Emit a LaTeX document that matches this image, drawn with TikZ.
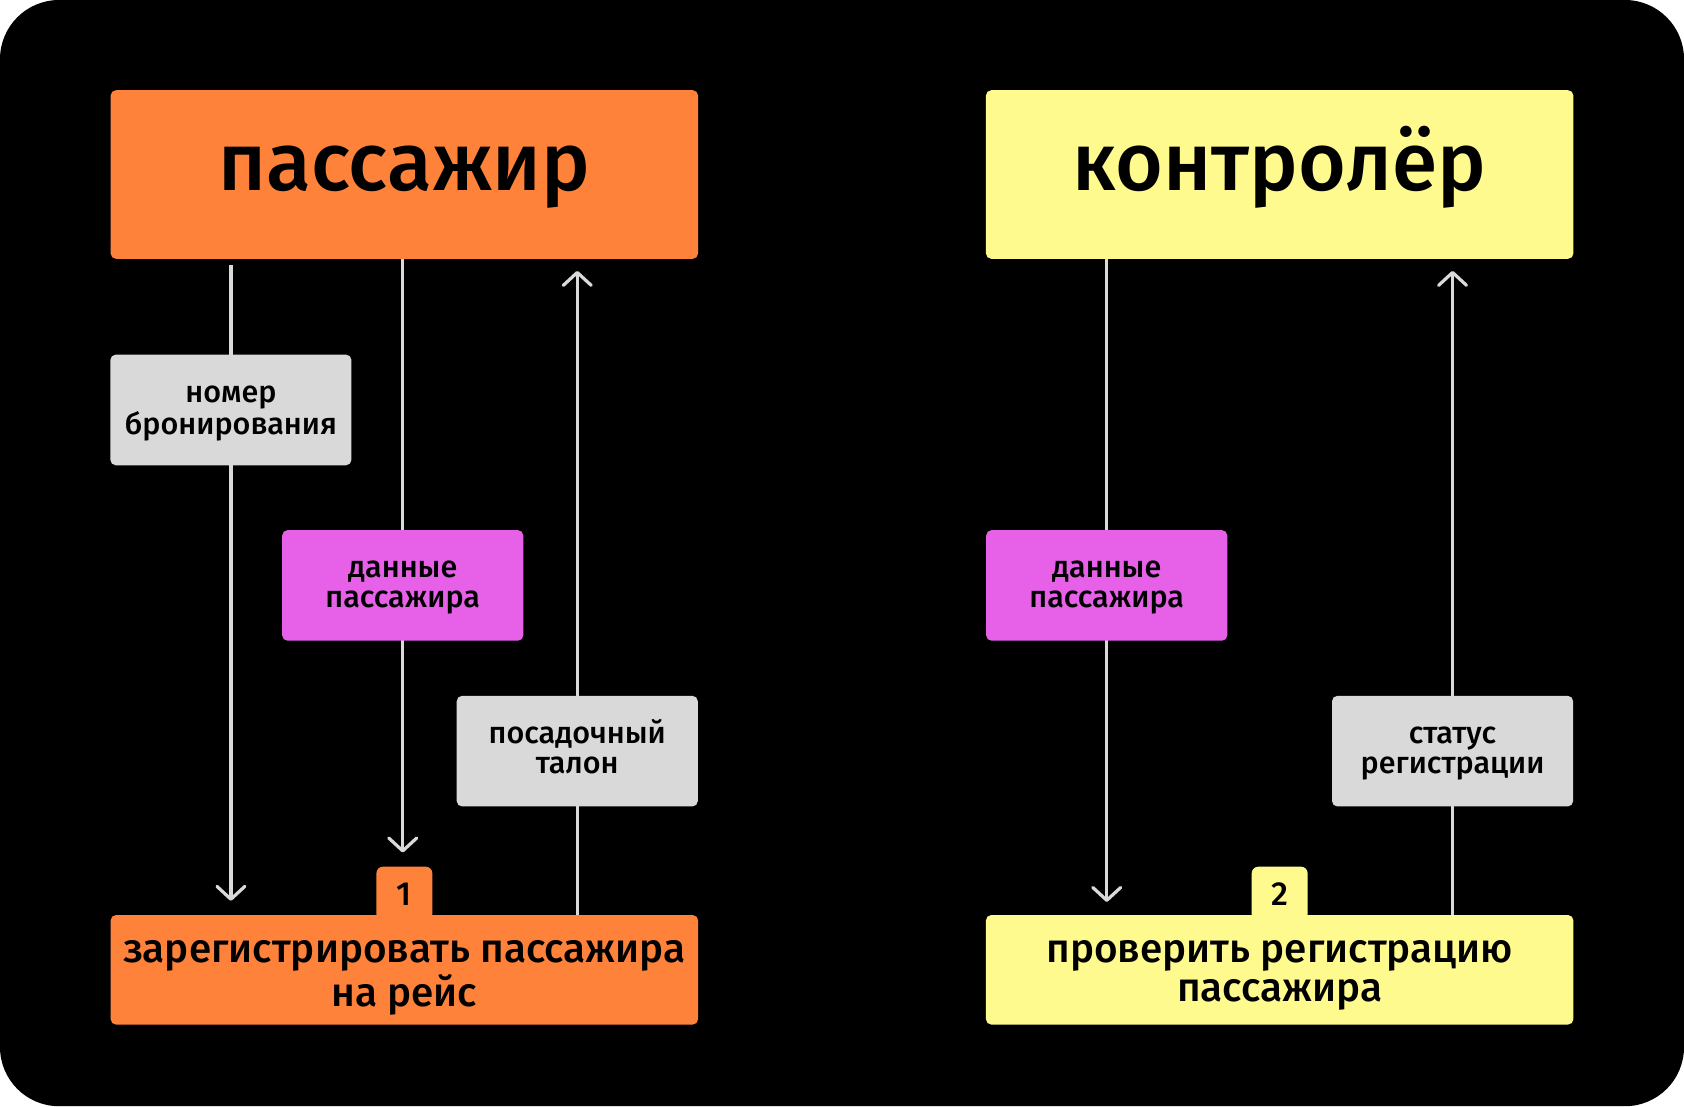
\documentclass[tikz,border=0pt]{standalone}
\usepackage{fontspec}
\setmainfont{Fira Sans}[UprightFont=* Medium, BoldFont=* SemiBold]
\usetikzlibrary{arrows.meta,backgrounds,calc}
\definecolor{orng}{HTML}{FF823A}
\definecolor{yell}{HTML}{FFFA8E}
\definecolor{mage}{HTML}{E660E8}
\definecolor{gry}{HTML}{D9D9D9}
\definecolor{lin}{HTML}{DADADA}
\newcommand\twol[2]{\begin{tabular}[t]{@{}c@{}}#1\\#2\end{tabular}}
\tikzset{
  box/.style={rounded corners=5pt, inner sep=0pt, anchor=base},
  titlebox/.style={box, minimum width=547pt, text height=93.4pt, text depth=63.6pt, font=\fontsize{76.3}{80}\selectfont},
  lblbox/.style={box, minimum width=224.5pt, text height=44.4pt, text depth=58.6pt, font=\fontsize{28.4}{27.6}\selectfont},
  taskbox/.style={box, minimum width=547pt, text height=44pt, text depth=58pt, font=\fontsize{37.7}{36.7}\selectfont},
  tabbox/.style={box, rounded corners=6pt, minimum width=52pt, text height=36.3pt, text depth=14pt, font=\fontsize{31}{34}\selectfont},
  flow/.style={draw=lin, line width=3pt, -{Straight Barb[length=12pt, width=26pt, round]}},
  plain/.style={draw=lin, line width=3pt}
}
\begin{document}
\begin{tikzpicture}[x=1pt,y=-1pt]
\useasboundingbox (0,0) rectangle (1568,1030);
\begin{pgfonlayer}{background}
\fill[white] (0,0) rectangle (1568,1030);
\fill[black, rounded corners=55pt] (0,0) rectangle (1568,1030);
\end{pgfonlayer}

% top actors
\node[titlebox, fill=orng] (p) at (376.5,177.4) {пассажир};
\node[titlebox, fill=yell] (k) at (1191.5,177.4) {контролёр};

% data labels
\node[lblbox, fill=gry] (nb) at (215,374.6) {\twol{номер}{бронирования}};
\node[lblbox, fill=mage] (dp) at (375,538) {\twol{данные}{пассажира}};
\node[lblbox, fill=gry] (pt) at (537.5,692.3) {\twol{посадочный}{талон}};
\node[lblbox, fill=mage] (dp2) at (1030.5,538) {\twol{данные}{пассажира}};
\node[lblbox, fill=gry] (sr) at (1352.5,692.3) {\twol{статус}{регистрации}};

% tabs
\node[tabbox, fill=orng] (t1) at (376.5,843.3) {1};
\node[tabbox, fill=yell] (t2) at (1191.5,843.3) {2};

% tasks
\node[taskbox, fill=orng] (reg) at (376.5,896) {\twol{зарегистрировать пассажира}{на рейс}};
\node[taskbox, fill=yell] (reg2) at (1191.5,896) {\twol{проверить регистрацию}{пассажира}};

\begin{pgfonlayer}{background}
\coordinate (a1s) at ($(nb.center |- p.south)+(0,6)$);
\coordinate (a1e) at ($(nb.center |- reg.north)+(0,-13)$);
\draw[flow] (a1s) -- (a1e);
\coordinate (a2e) at ($(dp.center |- t1.north)+(0,-13)$);
\draw[flow] (dp.center |- p.south) -- (a2e);
\coordinate (a3e) at ($(pt.center |- p.south)+(0,11)$);
\draw[flow] (pt.center |- reg.north) -- (a3e);
\coordinate (a4e) at ($(dp2.center |- reg2.north)+(0,-12)$);
\draw[flow] (dp2.center |- k.south) -- (a4e);
\coordinate (a5e) at ($(sr.center |- k.south)+(0,11)$);
\draw[flow] (sr.center |- reg2.north) -- (a5e);
\end{pgfonlayer}
\end{tikzpicture}
\end{document}
